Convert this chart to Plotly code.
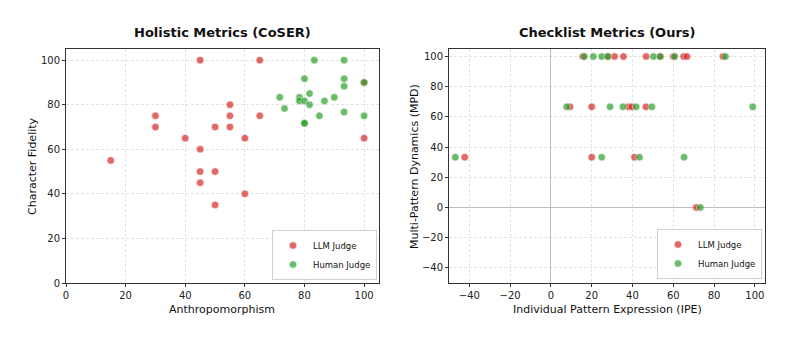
import plotly.graph_objects as go

# ---- Data: Holistic Metrics (CoSER) ----
left_llm_x = [45, 65, 30, 30, 55, 55, 55, 50, 65, 40, 60, 45, 15, 45, 50, 45, 60, 50, 100, 100]
left_llm_y = [100, 100, 75, 70, 80, 75, 70, 70, 75, 65, 65, 60, 55, 50, 50, 45, 40, 35, 65, 90]
left_hum_x = [83.3, 93.3, 80, 93.3, 93.3, 81.7, 71.7, 78.3, 78.3, 80, 81.7, 86.7, 90, 73.3, 85, 93.3, 100, 80, 80, 100]
left_hum_y = [100, 100, 91.7, 91.7, 88.3, 85, 83.3, 83.3, 81.7, 81.7, 80, 81.7, 83.3, 78.3, 75, 76.7, 75, 71.7, 71.7, 90]

# ---- Data: Checklist Metrics (Ours) ----
right_llm_x = [15.6, 27.9, 31.2, 35.6, 46.7, 53.6, 60.0, 65.1, 66.7, 84.4,
               9.3, 20.0, 38.0, 39.7, 46.6,
               20.0, 41.0, -42.3,
               71.3]
right_llm_y = [100, 100, 100, 100, 100, 100, 100, 100, 100, 100,
               66.7, 66.7, 66.7, 66.7, 66.7,
               33.3, 33.3, 33.3,
               0]
right_hum_x = [16.4, 20.8, 24.9, 27.9, 50.3, 53.6, 60.7, 85.6,
               7.7, 29.0, 35.3, 41.8, 49.5, 99.0,
               24.9, 43.4, 65.3, -46.9,
               73.3]
right_hum_y = [100, 100, 100, 100, 100, 100, 100, 100,
               66.7, 66.7, 66.7, 66.7, 66.7, 66.7,
               33.3, 33.3, 33.3, 33.3,
               0]

titles = ["Holistic Metrics (CoSER)", "Checklist Metrics (Ours)"]
x_titles = ["Anthropomorphism", "Individual Pattern Expression (IPE)"]
y_titles = ["Character Fidelity", "Multi-Pattern Dynamics (MPD)"]

RED = "#d62728"
GREEN = "#2ca02c"
FONT = "DejaVu Sans"

def mk(x, y, name, color, xa, ya, legend, show=True):
    return go.Scatter(
        x=x, y=y, mode="markers", name=name,
        xaxis=xa, yaxis=ya, legend=legend, showlegend=show,
        marker=dict(size=7.5, color=color, opacity=0.7,
                    line=dict(color="white", width=0.6)),
    )

fig = go.Figure()
fig.add_trace(mk(left_llm_x, left_llm_y, "LLM Judge", RED, "x", "y", "legend"))
fig.add_trace(mk(left_hum_x, left_hum_y, "Human Judge", GREEN, "x", "y", "legend"))
fig.add_trace(mk(right_llm_x, right_llm_y, "LLM Judge", RED, "x2", "y2", "legend2"))
fig.add_trace(mk(right_hum_x, right_hum_y, "Human Judge", GREEN, "x2", "y2", "legend2"))

W, H = 793, 340
ydom = [(H - 283) / H, (H - 49) / H]
axis_common = dict(
    showline=True, linecolor="#333333", linewidth=1, mirror=True,
    ticks="outside", ticklen=3, tickcolor="#333333", tickwidth=1,
    showgrid=True, gridcolor="#e3e3e3", griddash="3px,2px", gridwidth=0.8,
    tickfont=dict(family=FONT, size=10, color="#222222"),
    automargin=False,
)

legend_common = dict(
    xanchor="right", yanchor="bottom",
    bgcolor="rgba(255,255,255,0.85)", bordercolor="#d0d0d0",
    borderwidth=1, font=dict(family=FONT, size=8.5),
    itemsizing="trace", tracegroupgap=0, itemwidth=30,
)

def ann(text, x, y, size, angle=0, bold=False):
    return dict(text=f"<b>{text}</b>" if bold else text, x=x / W, y=(H - y) / H,
                xref="paper", yref="paper", showarrow=False,
                xanchor="center", yanchor="middle", textangle=angle,
                font=dict(family=FONT, size=size, color="#111111"))

ycen = (49 + 283) / 2
fig.update_layout(
    width=W, height=H,
    margin=dict(l=0, r=0, t=0, b=0, autoexpand=False),
    paper_bgcolor="white", plot_bgcolor="white",
    font=dict(family=FONT, color="#111111"),
    xaxis=dict(domain=[66 / W, 379 / W], range=[0, 105], dtick=20,
               zeroline=False, anchor="y", **axis_common),
    yaxis=dict(domain=ydom, range=[0, 105], dtick=20, zeroline=False,
               anchor="x", **axis_common),
    xaxis2=dict(domain=[449 / W, 765 / W], range=[-50, 105], dtick=20,
                zeroline=True, zerolinecolor="#bdbdbd", zerolinewidth=1,
                anchor="y2", **axis_common),
    yaxis2=dict(domain=ydom, range=[-50, 105], dtick=20,
                zeroline=True, zerolinecolor="#bdbdbd", zerolinewidth=1,
                anchor="x2", **axis_common),
    legend=dict(x=377 / W, y=(H - 280) / H, **legend_common),
    legend2=dict(x=762 / W, y=(H - 279) / H, **legend_common),
    annotations=[
        ann(titles[0], (66 + 379) / 2, 33, 13, bold=True),
        ann(titles[1], (449 + 765) / 2, 33, 13, bold=True),
        ann(x_titles[0], (66 + 379) / 2, 309, 11),
        ann(x_titles[1], (449 + 765) / 2, 309, 11),
        ann(y_titles[0], 32, ycen, 11, angle=-90),
        ann(y_titles[1], 414, ycen, 11, angle=-90),
    ],
)

fig.write_html(
    "out.html",
    config={"displayModeBar": False},
    post_script="document.body.style.margin='0';document.body.style.padding='0';",
)
